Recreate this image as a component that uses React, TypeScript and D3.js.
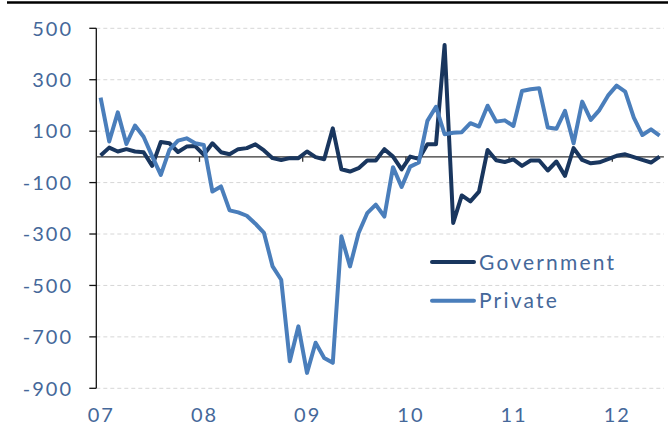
import { useMemo } from "react";
import * as d3 from "d3";

// monthly, Jan 2007 .. Jun 2012
const government = [
  5, 36, 21, 30, 21, 18, -35, 58, 53, 19, 40, 42,
  8, 53, 18, 10, 30, 34, 49, 25, -5, -12, -5, -5,
  21, -1, -9, 111, -48, -57, -44, -14, -14, 30, 1, -49,
  1, -8, 49, 49, 435, -257, -150, -173, -135, 27, -13, -20,
  -10, -35, -14, -14, -53, -18, -74, 34, -12, -25, -21, -9,
  4, 10, -1, -12, -22, 1,
];

const privateJobs = [
  230, 60, 173, 50, 122, 78, 2, -70, 27, 63, 72, 53,
  46, -135, -115, -208, -216, -229, -260, -296, -426, -478, -795, -659,
  -840, -723, -782, -801, -309, -426, -296, -219, -186, -232, -40, -117,
  -38, -22, 140, 195, 88, 94, 96, 131, 118, 199, 137, 142,
  120, 256, 263, 267, 114, 109, 179, 53, 215, 144, 182, 238,
  277, 254, 153, 85, 107, 83,
];

const yearLabels = ["07", "08", "09", "10", "11", "12"];
const yTicks = [500, 300, 100, -100, -300, -500, -700, -900];

const seriesNames = ["Government", "Private"];
const seriesColors = ["#19365e", "#4a7ebb"];

const W = 668;
const H = 425;
const left = 96.3;
const right = 663.9;
const top = 28.3;
const bottom = 388.3;
const font = "Lato, 'Open Sans', sans-serif";
const labelColor = "#45689a";

export default function App() {
  const x = useMemo(
    () => d3.scaleLinear().domain([0, government.length]).range([left, right]),
    []
  );
  const y = useMemo(
    () => d3.scaleLinear().domain([-900, 500]).range([bottom, top]),
    []
  );

  const line = d3
    .line<number>()
    .x((_, i) => x(i + 0.5))
    .y((d) => y(d));

  const data = [government, privateJobs];

  return (
    <div style={{ position: "fixed", left: 0, top: 0, background: "#fff" }}>
      <svg width={W} height={H} style={{ display: "block" }}>
        <rect width={W} height={H} fill="#fff" />
        {/* header rule */}
        <line x1={7} x2={W} y1={2.5} y2={2.5} stroke="#000" strokeWidth={2.5} />

        {/* gridlines */}
        {yTicks.map((t) => (
          <line
            key={"g" + t}
            x1={left}
            x2={right}
            y1={y(t)}
            y2={y(t)}
            stroke="#d6d6d6"
            strokeWidth={1}
            strokeDasharray="4,3"
          />
        ))}

        {/* y axis */}
        <line x1={left} x2={left} y1={top} y2={bottom} stroke="#111" strokeWidth={1.3} />
        {yTicks.map((t) => (
          <g key={"t" + t}>
            <line x1={left - 7} x2={left} y1={y(t)} y2={y(t)} stroke="#111" strokeWidth={1.3} />
            <text
              x={73}
              y={y(t)}
              dy="0.36em"
              textAnchor="end"
              fontFamily={font}
              fontSize={20}
              fill={labelColor}
              letterSpacing={2}
            >
              {t}
            </text>
          </g>
        ))}

        {/* zero line with year ticks */}
        <line x1={left} x2={right} y1={y(0)} y2={y(0)} stroke="#333" strokeWidth={1.3} />
        {yearLabels.map((lab, k) => (
          <g key={lab}>
            {k > 0 && (
              <line
                x1={x(k * 12)}
                x2={x(k * 12)}
                y1={y(0)}
                y2={y(0) + 5}
                stroke="#333"
                strokeWidth={1.3}
              />
            )}
            <text
              x={x(k * 12) + 5}
              y={422}
              textAnchor="middle"
              fontFamily={font}
              fontSize={20}
              fill={labelColor}
              letterSpacing={2}
            >
              {lab}
            </text>
          </g>
        ))}

        {/* series */}
        {data.map((vals, s) => (
          <path
            key={seriesNames[s]}
            d={line(vals) || ""}
            fill="none"
            stroke={seriesColors[s]}
            strokeWidth={4}
            strokeLinejoin="round"
          />
        ))}

        {/* legend */}
        {seriesNames.map((name, s) => (
          <g key={"l" + name} transform={`translate(432,${262 + s * 38.7})`}>
            <line x1={0} x2={42} y1={0} y2={0} stroke={seriesColors[s]} strokeWidth={4} strokeLinecap="round" />
            <text
              x={47}
              y={0}
              dy="0.36em"
              fontFamily={font}
              fontSize={21}
              fill={labelColor}
              letterSpacing={2.2}
            >
              {name}
            </text>
          </g>
        ))}
      </svg>
    </div>
  );
}
